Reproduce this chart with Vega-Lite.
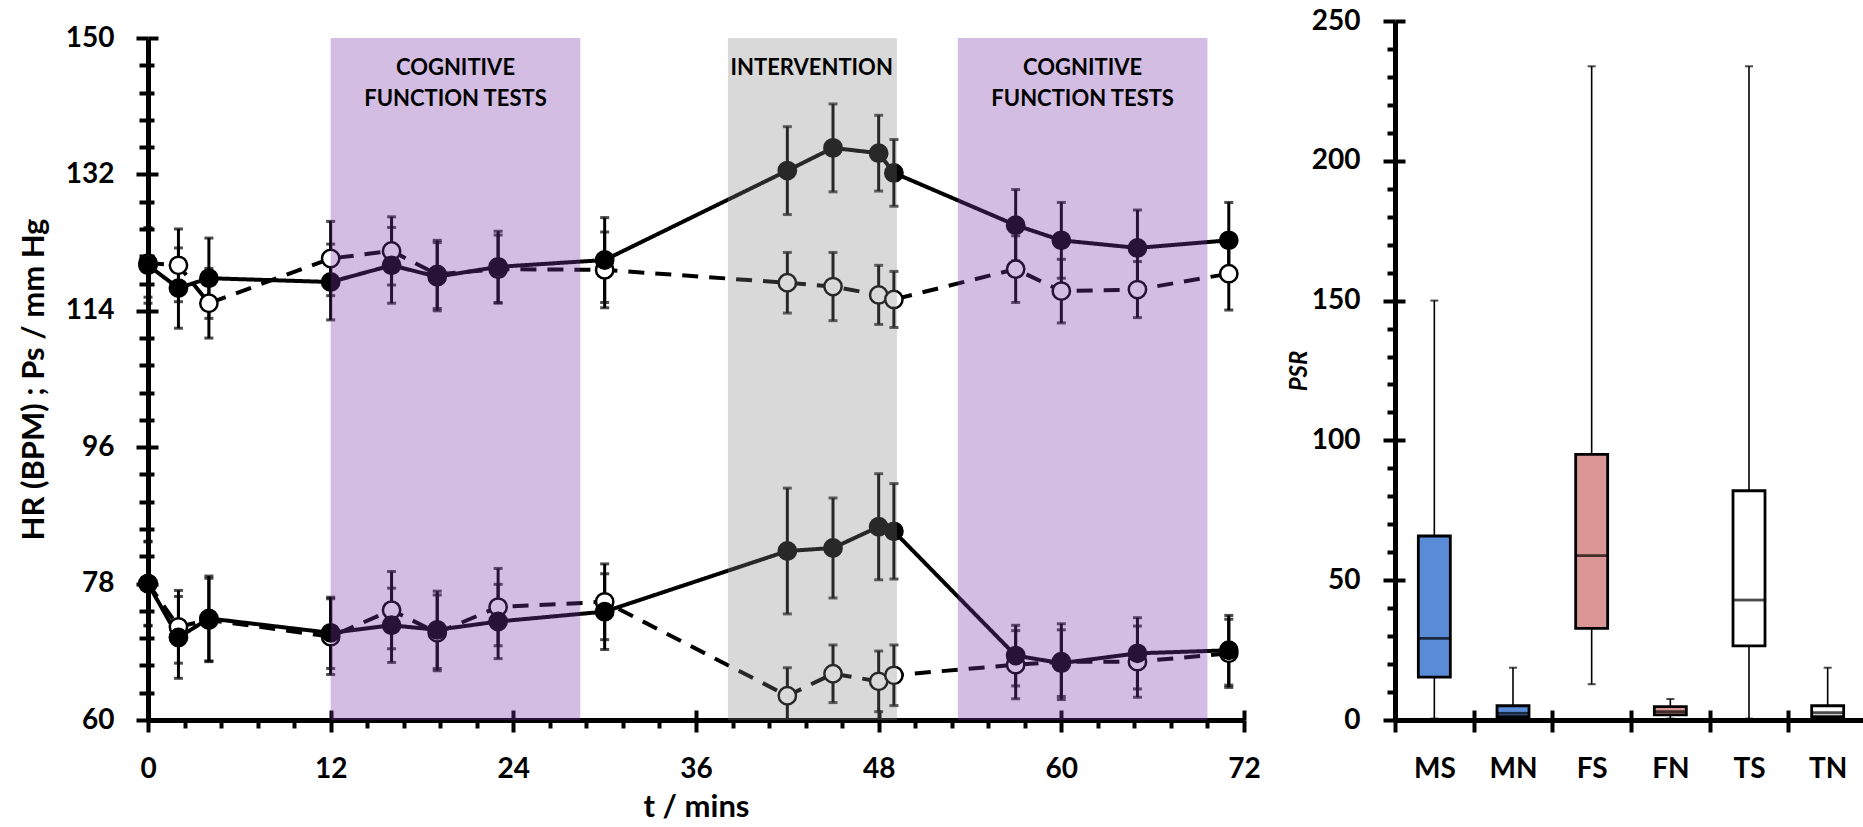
{
  "$schema": "https://vega.github.io/schema/vega-lite/v6.json",
  "padding": {"left": 18, "top": 7, "right": 0, "bottom": 0},
  "background": "white",
  "spacing": 26,
  "resolve": {"scale": {"fill": "independent", "opacity": "independent", "strokeDash": "independent"}},
  "config": {
    "view": {"stroke": null},
    "font": "Lato",
    "axis": {
      "labelFont": "Lato", "labelFontWeight": "bold", "labelFontSize": 28, "labelColor": "black",
      "titleFont": "Lato", "titleFontWeight": "bold", "titleFontSize": 31, "titleColor": "black",
      "domainColor": "black", "domainWidth": 5, "tickColor": "black", "tickWidth": 4,
      "grid": false, "labelFlush": false, "labelOverlap": false, "labelPadding": 18
    }
  },
  "datasets": {
    "series": [
      {"s": "Ps-open", "kind": "open", "t": 0, "v": 120.3, "lo": 115.8, "hi": 124.8},
      {"s": "Ps-open", "kind": "open", "t": 2, "v": 120.0, "lo": 115.2, "hi": 124.8},
      {"s": "Ps-open", "kind": "open", "t": 4, "v": 115.0, "lo": 110.4, "hi": 119.6},
      {"s": "Ps-open", "kind": "open", "t": 12, "v": 120.9, "lo": 116.0, "hi": 125.8},
      {"s": "Ps-open", "kind": "open", "t": 16, "v": 121.9, "lo": 117.4, "hi": 126.4},
      {"s": "Ps-open", "kind": "open", "t": 19, "v": 118.8, "lo": 114.3, "hi": 123.3},
      {"s": "Ps-open", "kind": "open", "t": 23, "v": 119.5, "lo": 115.0, "hi": 124.0},
      {"s": "Ps-open", "kind": "open", "t": 30, "v": 119.4, "lo": 114.4, "hi": 124.4},
      {"s": "Ps-open", "kind": "open", "t": 42, "v": 117.7, "lo": 113.7, "hi": 121.7},
      {"s": "Ps-open", "kind": "open", "t": 45, "v": 117.2, "lo": 112.7, "hi": 121.7},
      {"s": "Ps-open", "kind": "open", "t": 48, "v": 116.1, "lo": 112.2, "hi": 120.0},
      {"s": "Ps-open", "kind": "open", "t": 49, "v": 115.5, "lo": 111.8, "hi": 119.2},
      {"s": "Ps-open", "kind": "open", "t": 57, "v": 119.5, "lo": 115.1, "hi": 123.9},
      {"s": "Ps-open", "kind": "open", "t": 60, "v": 116.6, "lo": 112.4, "hi": 120.8},
      {"s": "Ps-open", "kind": "open", "t": 65, "v": 116.8, "lo": 113.1, "hi": 120.5},
      {"s": "Ps-open", "kind": "open", "t": 71, "v": 118.9, "lo": 114.1, "hi": 123.7},
      {"s": "HR-open", "kind": "open", "t": 0, "v": 78.0, "lo": 72.5, "hi": 83.5},
      {"s": "HR-open", "kind": "open", "t": 2, "v": 72.3, "lo": 67.5, "hi": 77.1},
      {"s": "HR-open", "kind": "open", "t": 4, "v": 73.2, "lo": 67.7, "hi": 78.7},
      {"s": "HR-open", "kind": "open", "t": 12, "v": 71.0, "lo": 66.0, "hi": 76.0},
      {"s": "HR-open", "kind": "open", "t": 16, "v": 74.5, "lo": 69.4, "hi": 79.6},
      {"s": "HR-open", "kind": "open", "t": 19, "v": 71.5, "lo": 66.5, "hi": 76.5},
      {"s": "HR-open", "kind": "open", "t": 23, "v": 74.9, "lo": 69.8, "hi": 80.0},
      {"s": "HR-open", "kind": "open", "t": 30, "v": 75.6, "lo": 70.6, "hi": 80.6},
      {"s": "HR-open", "kind": "open", "t": 42, "v": 63.2, "lo": 60.0, "hi": 66.9},
      {"s": "HR-open", "kind": "open", "t": 45, "v": 66.1, "lo": 62.3, "hi": 69.9},
      {"s": "HR-open", "kind": "open", "t": 48, "v": 65.1, "lo": 61.1, "hi": 69.1},
      {"s": "HR-open", "kind": "open", "t": 49, "v": 65.9, "lo": 61.9, "hi": 69.9},
      {"s": "HR-open", "kind": "open", "t": 57, "v": 67.3, "lo": 62.8, "hi": 71.8},
      {"s": "HR-open", "kind": "open", "t": 60, "v": 67.7, "lo": 62.7, "hi": 72.7},
      {"s": "HR-open", "kind": "open", "t": 65, "v": 67.7, "lo": 63.0, "hi": 72.4},
      {"s": "HR-open", "kind": "open", "t": 71, "v": 68.8, "lo": 64.3, "hi": 73.3},
      {"s": "Ps-filled", "kind": "filled", "t": 0, "v": 120.0, "lo": 115.0, "hi": 125.0},
      {"s": "Ps-filled", "kind": "filled", "t": 2, "v": 117.0, "lo": 111.7, "hi": 122.3},
      {"s": "Ps-filled", "kind": "filled", "t": 4, "v": 118.3, "lo": 113.0, "hi": 123.6},
      {"s": "Ps-filled", "kind": "filled", "t": 12, "v": 117.8, "lo": 112.8, "hi": 122.8},
      {"s": "Ps-filled", "kind": "filled", "t": 16, "v": 120.0, "lo": 115.0, "hi": 125.0},
      {"s": "Ps-filled", "kind": "filled", "t": 19, "v": 118.5, "lo": 114.0, "hi": 123.0},
      {"s": "Ps-filled", "kind": "filled", "t": 23, "v": 119.8, "lo": 115.1, "hi": 124.5},
      {"s": "Ps-filled", "kind": "filled", "t": 30, "v": 120.7, "lo": 115.1, "hi": 126.3},
      {"s": "Ps-filled", "kind": "filled", "t": 42, "v": 132.5, "lo": 126.7, "hi": 138.3},
      {"s": "Ps-filled", "kind": "filled", "t": 45, "v": 135.5, "lo": 129.7, "hi": 141.3},
      {"s": "Ps-filled", "kind": "filled", "t": 48, "v": 134.8, "lo": 129.8, "hi": 139.8},
      {"s": "Ps-filled", "kind": "filled", "t": 49, "v": 132.2, "lo": 127.8, "hi": 136.6},
      {"s": "Ps-filled", "kind": "filled", "t": 57, "v": 125.3, "lo": 120.6, "hi": 130.0},
      {"s": "Ps-filled", "kind": "filled", "t": 60, "v": 123.3, "lo": 118.3, "hi": 128.3},
      {"s": "Ps-filled", "kind": "filled", "t": 65, "v": 122.3, "lo": 117.3, "hi": 127.3},
      {"s": "Ps-filled", "kind": "filled", "t": 71, "v": 123.3, "lo": 118.3, "hi": 128.3},
      {"s": "HR-filled", "kind": "filled", "t": 0, "v": 78.0, "lo": 72.4, "hi": 83.6},
      {"s": "HR-filled", "kind": "filled", "t": 2, "v": 70.9, "lo": 65.5, "hi": 76.3},
      {"s": "HR-filled", "kind": "filled", "t": 4, "v": 73.4, "lo": 67.8, "hi": 79.0},
      {"s": "HR-filled", "kind": "filled", "t": 12, "v": 71.5, "lo": 66.8, "hi": 76.2},
      {"s": "HR-filled", "kind": "filled", "t": 16, "v": 72.5, "lo": 67.6, "hi": 77.4},
      {"s": "HR-filled", "kind": "filled", "t": 19, "v": 71.9, "lo": 66.8, "hi": 77.0},
      {"s": "HR-filled", "kind": "filled", "t": 23, "v": 73.0, "lo": 68.1, "hi": 77.9},
      {"s": "HR-filled", "kind": "filled", "t": 30, "v": 74.3, "lo": 69.3, "hi": 79.3},
      {"s": "HR-filled", "kind": "filled", "t": 42, "v": 82.3, "lo": 74.0, "hi": 90.6},
      {"s": "HR-filled", "kind": "filled", "t": 45, "v": 82.7, "lo": 76.1, "hi": 89.3},
      {"s": "HR-filled", "kind": "filled", "t": 48, "v": 85.5, "lo": 78.5, "hi": 92.5},
      {"s": "HR-filled", "kind": "filled", "t": 49, "v": 84.9, "lo": 78.6, "hi": 91.2},
      {"s": "HR-filled", "kind": "filled", "t": 57, "v": 68.5, "lo": 64.5, "hi": 72.5},
      {"s": "HR-filled", "kind": "filled", "t": 60, "v": 67.5, "lo": 63.1, "hi": 71.9},
      {"s": "HR-filled", "kind": "filled", "t": 65, "v": 68.8, "lo": 64.1, "hi": 73.5},
      {"s": "HR-filled", "kind": "filled", "t": 71, "v": 69.2, "lo": 64.6, "hi": 73.8}
    ],
    "regions": [
      {"start": 12, "end": 28.4, "kind": "cog"},
      {"start": 38.1, "end": 49.2, "kind": "int"},
      {"start": 53.2, "end": 69.6, "kind": "cog"}
    ],
    "labels": [
      {"t": 20.2, "y": 146.0, "text": "COGNITIVE"},
      {"t": 20.2, "y": 141.9, "text": "FUNCTION TESTS"},
      {"t": 43.6, "y": 146.0, "text": "INTERVENTION"},
      {"t": 61.4, "y": 146.0, "text": "COGNITIVE"},
      {"t": 61.4, "y": 141.9, "text": "FUNCTION TESTS"}
    ],
    "box": [
      {"cat": "MS", "min": 0.5, "q1": 15.3, "med": 29.2, "q3": 65.8, "max": 150},
      {"cat": "MN", "min": 0.5, "q1": 1.2, "med": 2.4, "q3": 5.1, "max": 18.7},
      {"cat": "FS", "min": 12.8, "q1": 32.8, "med": 58.8, "q3": 95.0, "max": 233.8},
      {"cat": "FN", "min": 0.5, "q1": 1.8, "med": 3.0, "q3": 4.8, "max": 7.5},
      {"cat": "TS", "min": 0.5, "q1": 26.5, "med": 42.9, "q3": 82.0, "max": 233.8},
      {"cat": "TN", "min": 0.5, "q1": 1.2, "med": 2.6, "q3": 5.1, "max": 18.7}
    ]
  },
  "hconcat": [
    {
      "spacing": 16,
      "bounds": "flush",
      "vconcat": [
        {
          "width": 1096,
          "height": 1,
          "data": {"values": [{"a": 1}]},
          "mark": {"type": "text", "text": " "},
          "encoding": {}
        },
        {
          "width": 1096,
          "height": 682,
          "resolve": {
            "scale": {"fill": "independent", "opacity": "independent"},
            "axis": {"x": "independent", "y": "independent"}
          },
          "layer": [
            {
              "data": {"name": "series"},
              "mark": {"type": "errorbar", "color": "black", "thickness": 3, "ticks": {"size": 9, "thickness": 3}},
              "encoding": {
                "x": {
                  "field": "t", "type": "quantitative",
                  "scale": {"domain": [0, 72], "nice": false, "zero": false},
                  "axis": {
                    "orient": "bottom",
                    "title": "t / mins",
                    "values": [0, 12, 24, 36, 48, 60, 72],
                    "format": "d",
                    "tickSize": 12,
                    "labelPadding": 23,
                    "titlePadding": 9
                  }
                },
                "y": {
                  "field": "lo", "type": "quantitative",
                  "scale": {"domain": [60, 150], "nice": false, "zero": false},
                  "axis": {
                    "orient": "left",
                    "title": "HR (BPM) ; Ps / mm Hg",
                    "values": [60, 78, 96, 114, 132, 150],
                    "format": "d",
                    "tickSize": 12,
                    "labelPadding": 22,
                    "titlePadding": 15
                  }
                },
                "y2": {"field": "hi"}
              }
            },
            {
              "data": {"name": "series"},
              "mark": {"type": "line", "color": "black", "strokeWidth": 4},
              "encoding": {
                "x": {
                  "field": "t", "type": "quantitative",
                  "axis": {
                    "orient": "bottom", "title": null, "labels": false, "domain": false,
                    "values": [2.4, 4.8, 7.2, 9.6, 14.4, 16.8, 19.2, 21.6, 26.4, 28.8, 31.2, 33.6, 38.4, 40.8, 43.2, 45.6, 50.4, 52.8, 55.2, 57.6, 62.4, 64.8, 67.2, 69.6],
                    "tickSize": 8
                  }
                },
                "y": {
                  "field": "v", "type": "quantitative",
                  "axis": {
                    "orient": "left", "title": null, "labels": false, "domain": false,
                    "values": [63.6, 67.2, 70.8, 74.4, 81.6, 85.2, 88.8, 92.4, 99.6, 103.2, 106.8, 110.4, 117.6, 121.2, 124.8, 128.4, 135.6, 139.2, 142.8, 146.4],
                    "tickSize": 9
                  }
                },
                "detail": {"field": "s", "type": "nominal"},
                "strokeDash": {"field": "kind", "type": "nominal", "scale": {"domain": ["filled", "open"], "range": [[1, 0], [16, 11]]}, "legend": null}
              }
            },
            {
              "data": {"name": "series"},
              "mark": {"type": "circle", "size": 300, "stroke": "black", "strokeWidth": 2.5, "opacity": 1},
              "encoding": {
                "x": {
                  "field": "t", "type": "quantitative",
                  "axis": {"orient": "bottom", "title": null, "labels": false, "domain": false, "values": [0, 12, 24, 36, 48, 60, 72], "tickSize": -10}
                },
                "y": {
                  "field": "v", "type": "quantitative",
                  "axis": {"orient": "left", "title": null, "labels": false, "domain": false, "values": [60, 78, 96, 114, 132, 150], "tickSize": -10}
                },
                "fill": {"field": "kind", "type": "nominal", "scale": {"domain": ["filled", "open"], "range": ["#000000", "#ffffff"]}, "legend": null}
              }
            },
            {
              "data": {"name": "regions"},
              "mark": {"type": "rect"},
              "encoding": {
                "x": {"field": "start", "type": "quantitative", "axis": null},
                "x2": {"field": "end"},
                "fill": {"field": "kind", "type": "nominal", "scale": {"domain": ["cog", "int"], "range": ["#7a37a7", "#838383"]}, "legend": null},
                "opacity": {"field": "kind", "type": "nominal", "scale": {"domain": ["cog", "int"], "range": [0.33, 0.306]}, "legend": null}
              }
            },
            {
              "data": {"name": "labels"},
              "mark": {"type": "text", "font": "Lato", "fontWeight": "bold", "fontSize": 22, "color": "black", "align": "center", "baseline": "middle"},
              "encoding": {
                "x": {"field": "t", "type": "quantitative", "axis": null},
                "y": {
                  "field": "y", "type": "quantitative",
                  "axis": {
                    "orient": "left", "title": null, "labels": false, "domain": false, "tickSize": -6,
                    "values": [63.6, 67.2, 70.8, 74.4, 81.6, 85.2, 88.8, 92.4, 99.6, 103.2, 106.8, 110.4, 117.6, 121.2, 124.8, 128.4, 135.6, 139.2, 142.8, 146.4]
                  }
                },
                "text": {"field": "text", "type": "nominal"}
              }
            }
          ]
        }
      ]
    },
    {
      "width": 472,
      "height": 699,
      "data": {"name": "box"},
      "resolve": {"axis": {"x": "independent", "y": "independent"}},
      "encoding": {
        "x": {
          "field": "cat", "type": "nominal",
          "sort": ["MS", "MN", "FS", "FN", "TS", "TN"],
          "scale": {"paddingInner": 0, "paddingOuter": 0},
          "axis": null
        }
      },
      "layer": [
        {
          "mark": {"type": "rule", "color": "black", "strokeWidth": 1.6},
          "encoding": {
            "x": {
              "field": "cat", "type": "nominal",
              "sort": ["MS", "MN", "FS", "FN", "TS", "TN"],
              "scale": {"paddingInner": 0, "paddingOuter": 0},
              "axis": {"orient": "bottom", "title": null, "labelAngle": 0, "tickBand": "extent", "tickSize": 12, "labelPadding": 23}
            },
            "y": {
              "field": "min", "type": "quantitative",
              "scale": {"domain": [0, 250], "nice": false},
              "axis": {
                "orient": "left",
                "title": "PSR",
                "titleFontStyle": "italic",
                "titleFontSize": 24,
                "titlePadding": 0,
                "values": [0, 50, 100, 150, 200, 250],
                "format": "d",
                "tickSize": 12,
                "labelPadding": 23
              }
            },
            "y2": {"field": "max"}
          }
        },
        {
          "mark": {"type": "tick", "color": "black", "size": 8, "thickness": 2},
          "encoding": {
            "y": {
              "field": "max", "type": "quantitative",
              "axis": {
                "orient": "left", "title": null, "labels": false, "domain": false, "tickSize": 8,
                "values": [10, 20, 30, 40, 60, 70, 80, 90, 110, 120, 130, 140, 160, 170, 180, 190, 210, 220, 230, 240]
              }
            }
          }
        },
        {
          "mark": {"type": "tick", "color": "black", "size": 8, "thickness": 2},
          "encoding": {
            "y": {
              "field": "min", "type": "quantitative",
              "axis": {"orient": "left", "title": null, "labels": false, "domain": false, "tickSize": -10, "values": [0, 50, 100, 150, 200, 250]}
            }
          }
        },
        {
          "mark": {"type": "bar", "size": 32, "stroke": "black", "strokeWidth": 2.8},
          "encoding": {
            "y": {"field": "q1", "type": "quantitative", "axis": null},
            "y2": {"field": "q3"},
            "fill": {"field": "cat", "type": "nominal", "scale": {"domain": ["MS", "MN", "FS", "FN", "TS", "TN"], "range": ["#5a8bd6", "#5a8bd6", "#d99694", "#d99694", "#ffffff", "#ffffff"]}, "legend": null}
          }
        },
        {
          "mark": {"type": "tick", "color": "black", "size": 32, "thickness": 2.8},
          "encoding": {
            "x": {
              "field": "cat", "type": "nominal",
              "sort": ["MS", "MN", "FS", "FN", "TS", "TN"],
              "scale": {"paddingInner": 0, "paddingOuter": 0},
              "axis": {"orient": "bottom", "title": null, "labels": false, "domain": false, "tickBand": "extent", "tickSize": -10}
            },
            "y": {"field": "med", "type": "quantitative", "axis": null}
          }
        }
      ]
    }
  ]
}
